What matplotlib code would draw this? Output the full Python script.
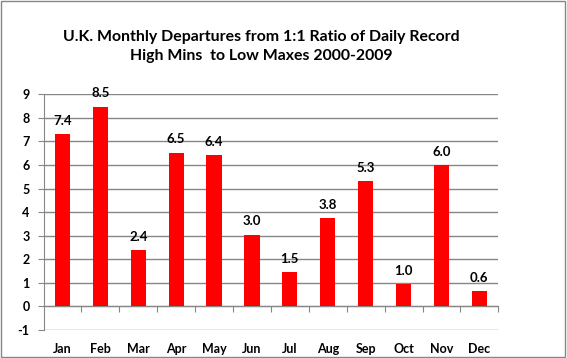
import numpy as np
import matplotlib
matplotlib.use('Agg')
import matplotlib.pyplot as plt
from matplotlib.patches import Rectangle

# Data
months = ['Jan', 'Feb', 'Mar', 'Apr', 'May', 'Jun', 'Jul', 'Aug', 'Sep', 'Oct', 'Nov', 'Dec']
departures = [7.33, 8.48, 2.38, 6.53, 6.43, 3.05, 1.47, 3.77, 5.33, 0.96, 6.0, 0.65]
bar_labels = ['7.4', '8.5', '2.4', '6.5', '6.4', '3.0', '1.5', '3.8', '5.3', '1.0', '6.0', '0.6']
y_ticks = list(range(-1, 10))

title = ('U.K. Monthly Departures from 1:1 Ratio of Daily Record\n'
         'High Mins  to Low Maxes 2000-2009')

plt.rcParams['font.family'] = ['Lato', 'DejaVu Sans']

fig = plt.figure(figsize=(5.67, 3.58), dpi=100)
ax = fig.add_axes([43.5 / 567, (358 - 330) / 358, (498.3 - 43.5) / 567, (330 - 94.3) / 358])

x = np.arange(len(months))
ax.bar(x, departures, width=0.4, color='#ff0000', zorder=3)

for xi, yi, lab in zip(x, departures, bar_labels):
    ax.text(xi, yi + 0.3, lab, ha='center', va='bottom',
            fontsize=9.5, fontweight='bold', color='#000000', zorder=4)

ax.set_xlim(-0.5, len(months) - 0.5)
ax.set_ylim(-1, 9)
ax.set_yticks(y_ticks)
ax.set_yticklabels([str(t) for t in y_ticks])
ax.yaxis.grid(True, color='#868686', linewidth=1, zorder=0)

# x axis sits at zero, month labels hang below the plot area
ax.spines['bottom'].set_position(('data', 0))
ax.spines['bottom'].set_color('#868686')
ax.spines['left'].set_color('#868686')
ax.spines['top'].set_visible(False)
ax.spines['right'].set_visible(False)
ax.set_xticks(np.arange(len(months)) + 0.5)
ax.set_xticklabels([])
ax.set_xticks(x, minor=True)
ax.set_xticklabels(months, minor=True)
ax.tick_params(axis='x', which='major', length=4, color='#868686', direction='out')
ax.tick_params(axis='x', which='minor', length=0, pad=26,
               labelsize=9)
ax.tick_params(axis='y', length=4, color='#868686', labelsize=9, pad=6)
for lab in ax.get_xticklabels(minor=True) + ax.get_yticklabels():
    lab.set_fontweight('bold')

fig.text(0.46, 0.915, title, ha='center', va='top', fontsize=11.4,
         fontweight='bold', linespacing=1.45)

# grey border round the whole chart
fig.patches.append(Rectangle((0.002, 0.003), 0.995, 0.994, transform=fig.transFigure,
                             fill=False, edgecolor='#868686', linewidth=1))

fig.savefig('out.png', dpi=100)
